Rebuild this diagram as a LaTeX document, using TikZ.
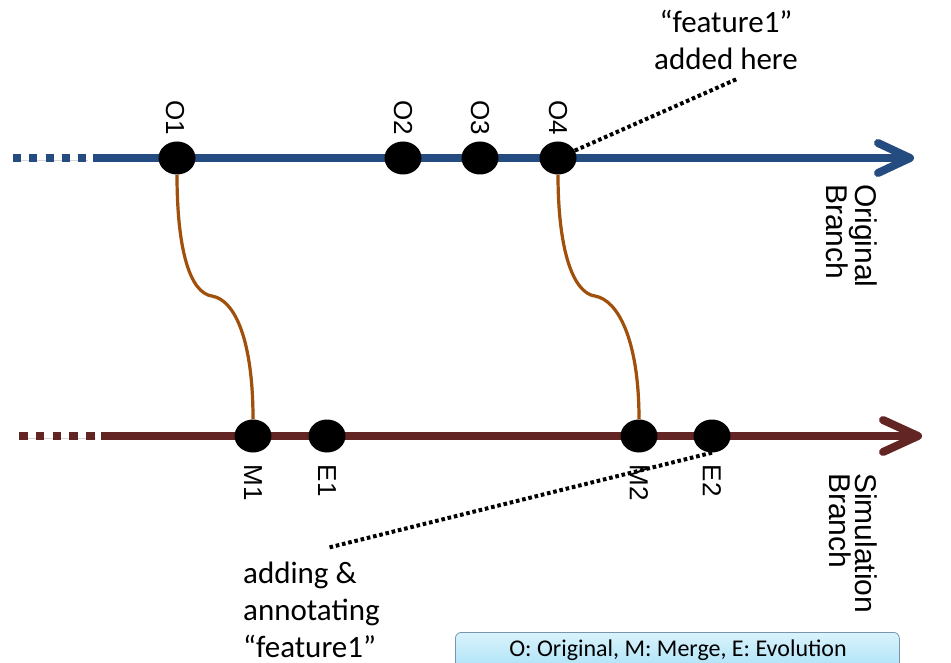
\documentclass[tikz,border=0pt]{standalone}
\usepackage{fontspec}
\setmainfont{Carlito}
\newfontfamily\arialfont{Liberation Sans}
\usetikzlibrary{shapes.geometric,backgrounds,calc}

\definecolor{origblue}{RGB}{36,76,128}
\definecolor{simred}{RGB}{99,37,35}
\definecolor{mergebrown}{RGB}{160,80,10}
\definecolor{legendtop}{RGB}{218,243,252}
\definecolor{legendbot}{RGB}{160,222,246}
\definecolor{legendedge}{RGB}{120,150,172}

\begin{document}
\begin{tikzpicture}[x=1pt,y=-1pt,
  commit/.style={ellipse, fill=black, minimum width=37pt, minimum height=33pt, inner sep=0pt},
  commitlabel/.style={font=\arialfont\fontsize{26}{26}\selectfont, rotate=-90, inner sep=0pt},
  branchlabel/.style={font=\arialfont\fontsize{30}{26}\selectfont, rotate=-90, align=left,
    inner sep=0pt, anchor=north west},
  annot/.style={font=\fontsize{31}{37}\selectfont, inner sep=0pt},
  softshadow/.style={preaction={draw=black, opacity=0.16,
    transform canvas={shift={(1.5pt,-2.5pt)}}}},
  branchline/.style={line width=8pt, softshadow},
  dashrun/.style={line width=8pt, line cap=butt, softshadow},
  branchhead/.style={line width=8pt, line cap=round, line join=round, softshadow},
  mergeline/.style={mergebrown, line width=3.2pt, softshadow},
  noteline/.style={line width=4pt, dash pattern=on 3.6pt off 2.8pt},
]
\useasboundingbox (0,0) rectangle (951,663);
\clip (0,0) rectangle (951,663);

% commits on the original branch
\node (O1) [commit] at (177,158) {};
\node (O2) [commit] at (403,158) {};
\node (O3) [commit] at (480,158) {};
\node (O4) [commit] at (558,158) {};

% commits on the simulation branch
\node (M1) [commit] at (253,436) {};
\node (E1) [commit] at (327,436) {};
\node (M2) [commit] at (639,436) {};
\node (E2) [commit] at (712,436) {};

% branch timelines, kept behind the commits
\coordinate (obdash) at (13,158);
\coordinate (obdashend) at (86,158);
\coordinate (obstart) at (93,158);
\coordinate (obtip) at (910,158);
\coordinate (sbdash) at (19,436);
\coordinate (sbdashend) at (94.5,436);
\coordinate (sbstart) at (101,436);
\coordinate (sbtip) at (918,436);
\begin{scope}[on background layer]
  \draw[dashrun, origblue, dash pattern=on 8pt off 8.25pt] (obdash) -- (obdashend);
  \draw[branchline, origblue] (obstart) -- (obtip);
  \draw[branchhead, origblue] ($(obtip)+(-32,-15)$) -- (obtip) -- ($(obtip)+(-32,15)$);

  \draw[dashrun, simred, dash pattern=on 8.5pt off 8.25pt] (sbdash) -- (sbdashend);
  \draw[branchline, simred] (sbstart) -- (sbtip);
  \draw[branchhead, simred] ($(sbtip)+(-35,-16)$) -- (sbtip) -- ($(sbtip)+(-35,16)$);
\end{scope}

% merges from the original branch into the simulation branch
\draw[mergeline] (O1.south) .. controls (177,250) and (190,293) .. (212,296)
  .. controls (235,300) and (253,340) .. (M1.north);
\draw[mergeline] (O4.south) .. controls (558,250) and (573,293) .. (595,296)
  .. controls (618,300) and (639,340) .. (M2.north);

% commit labels
\node[commitlabel, anchor=east] at ($(O1.north)+(-2,-6)$) {O1};
\node[commitlabel, anchor=east] at ($(O2.north)+(0,-6)$) {O2};
\node[commitlabel, anchor=east] at ($(O3.north)+(0,-6)$) {O3};
\node[commitlabel, anchor=east] at ($(O4.north)+(0,-6)$) {O4};
\node[commitlabel, anchor=west] at ($(M1.south)+(0,12)$) {M1};
\node[commitlabel, anchor=west] at ($(E1.south)+(0,12)$) {E1};
\node[commitlabel, anchor=west] at ($(M2.south)+(0,12)$) {M2};
\node[commitlabel, anchor=west] at ($(E2.south)+(0,12)$) {E2};

% branch names
\node (origname) [branchlabel] at (877,184) {Original\\Branch};
\node (simname) [branchlabel] at (877,473) {Simulation\\Branch};

% annotations
\node (addedtext) [annot, align=center] at (726,40) {“feature1”\\added here};
\coordinate (addedend) at (737,79);
\draw[noteline] (O4) -- (addedend);

\node (annotext) [annot, align=left, anchor=west] at (243,610) {adding \&\\annotating\\“feature1”};
\coordinate (annoend) at (327,548);
\draw[noteline] (E2.south) -- (annoend);

% legend
\node (legend) [draw=legendedge, line width=0.8pt, rounded corners=6pt,
  top color=legendtop, bottom color=legendbot,
  minimum width=444pt, minimum height=46pt, anchor=north west, inner sep=0pt] at (455,632) {};
\node (legendtext) [font=\fontsize{24}{24}\selectfont, inner sep=0pt] at (678,650)
  {O: Original, M: Merge, E: Evolution};
\end{tikzpicture}
\end{document}
